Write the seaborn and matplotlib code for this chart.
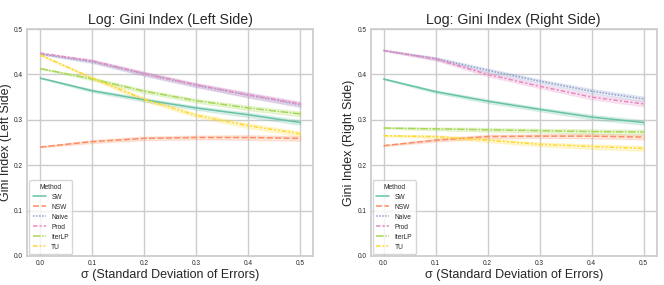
import matplotlib
matplotlib.use('Agg')
import matplotlib.pyplot as plt
import pandas as pd
import seaborn as sns

sigma = [0.0, 0.1, 0.2, 0.3, 0.4, 0.5]
methods = ['SW', 'NSW', 'Naive', 'Prod', 'IterLP', 'TU']

# Gini index, left side
left_vals = {
   'SW':     [0.392, 0.364, 0.344, 0.326, 0.311, 0.294],
   'NSW':    [0.240, 0.252, 0.259, 0.261, 0.261, 0.259],
   'Naive':  [0.445, 0.428, 0.401, 0.376, 0.354, 0.333],
   'Prod':   [0.447, 0.430, 0.402, 0.377, 0.355, 0.335],
   'IterLP': [0.413, 0.390, 0.363, 0.342, 0.326, 0.313],
   'TU':     [0.443, 0.392, 0.345, 0.310, 0.287, 0.269],
}

# Gini index, right side
right_vals = {
   'SW':     [0.390, 0.362, 0.341, 0.323, 0.306, 0.294],
   'NSW':    [0.243, 0.255, 0.263, 0.264, 0.264, 0.262],
   'Naive':  [0.453, 0.435, 0.409, 0.385, 0.363, 0.346],
   'Prod':   [0.453, 0.434, 0.400, 0.374, 0.350, 0.335],
   'IterLP': [0.282, 0.280, 0.278, 0.276, 0.274, 0.273],
   'TU':     [0.265, 0.263, 0.255, 0.246, 0.241, 0.237],
}

# half-width of the spread between runs at each sigma
spread = [0.001, 0.003, 0.004, 0.004, 0.005, 0.005]


def to_long(vals):
   """ Два наблюдения на точку: среднее +/- разброс. """
   rows = []
   for m in methods:
      for s, v, d in zip(sigma, vals[m], spread):
         rows.append((m, s, v - d))
         rows.append((m, s, v + d))
   return pd.DataFrame(rows, columns=['Method', 'sigma', 'gini'])


sns.set_theme(style='whitegrid')
plt.rcParams['font.family'] = ['Liberation Sans', 'DejaVu Sans']

fig, axes = plt.subplots(1, 2, figsize=(6.64, 2.85), dpi=100)
panels = [(left_vals, 'Left Side'), (right_vals, 'Right Side')]

for ax, (vals, side) in zip(axes, panels):
   sns.lineplot(data=to_long(vals), x='sigma', y='gini', hue='Method', style='Method',
                hue_order=methods, style_order=methods, palette='Set2',
                errorbar=('pi', 100), linewidth=1.1, ax=ax)
   ax.set_ylim(0, 0.5)
   ax.set_xticks(sigma)
   ax.set_title(f'Log: Gini Index ({side})', fontsize=10.2, pad=4)
   ax.set_xlabel('σ (Standard Deviation of Errors)', fontsize=9, labelpad=1.5)
   ax.set_ylabel(f'Gini Index ({side})', fontsize=9, labelpad=1.5)
   ax.tick_params(labelsize=4.7, length=0, pad=3)
   ax.legend(title='Method', loc='lower left', fontsize=4.8, title_fontsize=4.8,
             handlelength=2.0, labelspacing=0.45, borderpad=0.5, borderaxespad=0.3)

plt.subplots_adjust(left=0.041, right=0.989, top=0.898, bottom=0.102, wspace=0.2)
fig.savefig('out.png', dpi=100)
